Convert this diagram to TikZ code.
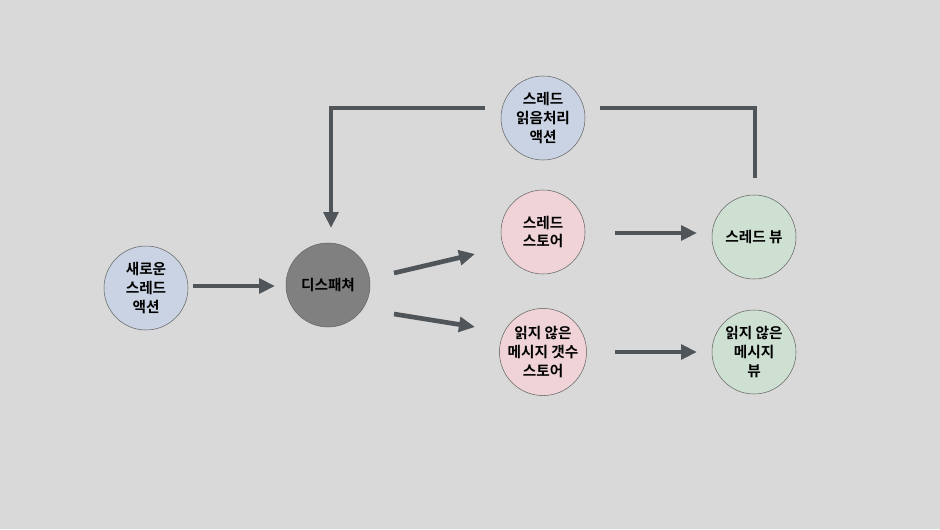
\documentclass[tikz,border=0pt]{standalone}
\usepackage{fontspec}
\newfontfamily\kr{Noto Sans CJK KR Bold}
\usetikzlibrary{arrows.meta,positioning}
\definecolor{bgc}{HTML}{D9D9D9}
\definecolor{arc}{HTML}{50555A}
\definecolor{bluec}{HTML}{C9D3E3}
\definecolor{pinkc}{HTML}{EFD3D6}
\definecolor{greenc}{HTML}{CDE0D2}
\tikzset{
    every node/.style={font=\kr\fontsize{11}{14}\selectfont, align=center},
    main node/.style={circle,draw=black!60,thin,minimum size=63pt,inner sep=0pt}
}
\begin{document}
\begin{tikzpicture}[
            x = 0.75pt, y = -0.75pt,
            > = {Triangle[length=12pt,width=11pt]}, % arrow head style
            line width = 3.5pt, % line style
            draw = arc
        ]
        \fill[bgc] (0,0) rectangle (940,529);
        \useasboundingbox (0,0) rectangle (940,529);

        \node[main node, fill=bluec] (new) at (146,288) {새로운\\스레드\\액션};
        \node[main node, fill=black!50] (disp) at (328,285) {디스패쳐};
        \node[main node, fill=bluec] (read) at (543,118) {스레드\\읽음처리\\액션};
        \node[main node, fill=pinkc] (tstore) at (543,232) {스레드\\스토어};
        \node[main node, fill=pinkc] (ustore) at (543,352) {읽지 않은\\메시지 갯수\\스토어};
        \node[main node, fill=greenc] (tview) at (754,237) {스레드 뷰};
        \node[main node, fill=greenc] (uview) at (754,352) {읽지 않은\\메시지\\뷰};

        \draw[->, arc] (193,286) -- (275,286);
        \draw[->, arc] (394,273) -- (475,254);
        \draw[->, arc] (394,314) -- (475,327);
        \draw[->, arc] (615,233) -- (697,233);
        \draw[->, arc] (615,352) -- (697,352);
        \draw[->, arc] (485,108) -| (331,228);
        \draw[arc] (600,108) -| (755,178);
  \end{tikzpicture}
\end{document}
